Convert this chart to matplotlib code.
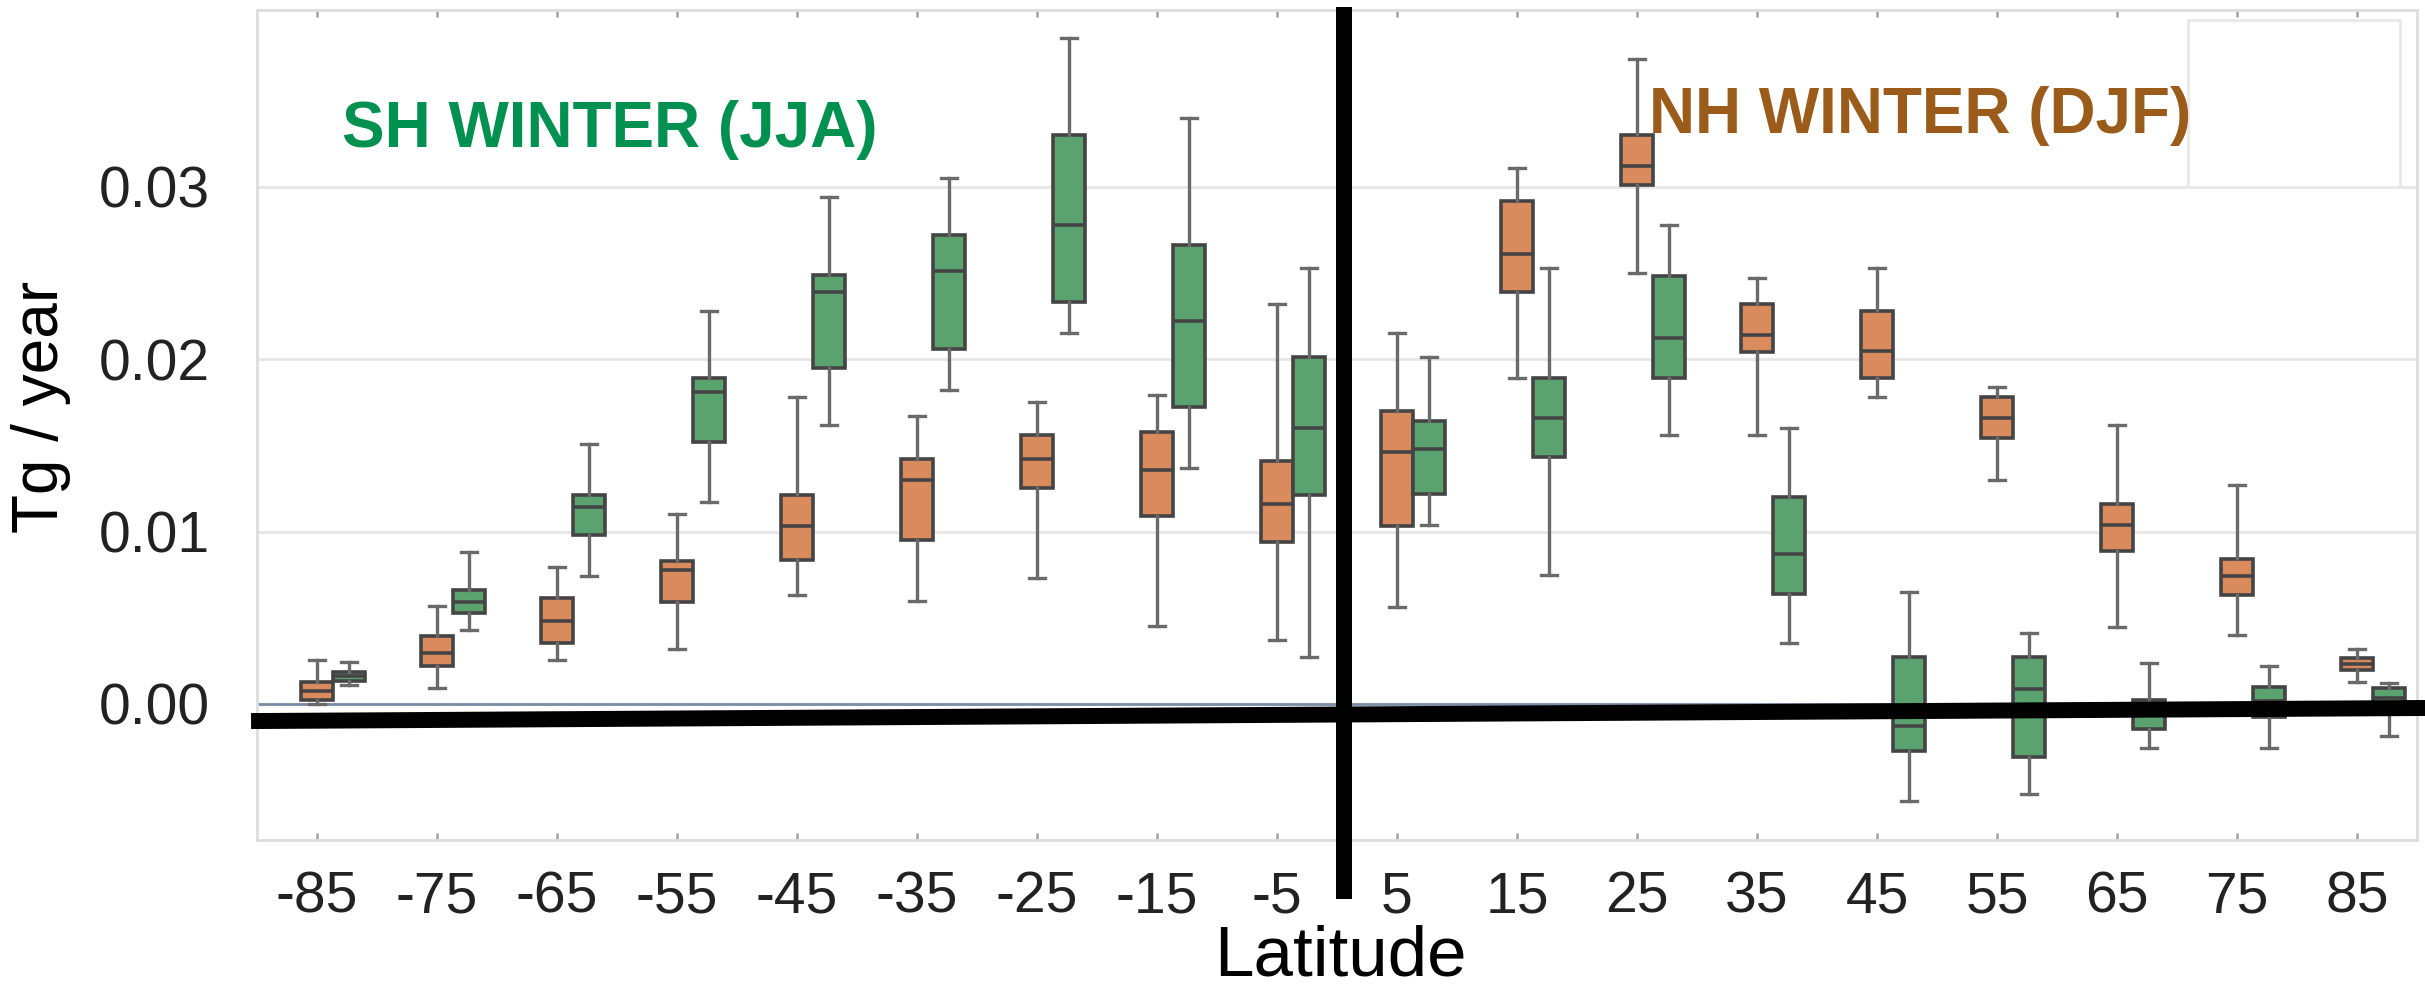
import numpy as np
import matplotlib
matplotlib.use('Agg')
import matplotlib.pyplot as plt
from matplotlib.patches import Rectangle

plt.rcParams['font.family'] = ['Liberation Sans', 'DejaVu Sans']

# latitude bins
lats = [-85, -75, -65, -55, -45, -35, -25, -15, -5, 5, 15, 25, 35, 45, 55, 65, 75, 85]

# DJF (orange) box stats, x 1e-3 Tg/year
djf_lo = [0.0, 0.92, 2.56, 3.19, 6.3, 5.97, 7.3, 4.5, 3.7, 5.6, 18.9, 25.0, 15.6, 17.8, 13.0, 4.47, 4.0, 1.28]
djf_q1 = [0.26, 2.2, 3.55, 5.93, 8.35, 9.5, 12.5, 10.9, 9.4, 10.3, 23.9, 30.1, 20.4, 18.9, 15.4, 8.9, 6.3, 2.0]
djf_med = [0.73, 2.93, 4.84, 7.77, 10.3, 13.0, 14.2, 13.6, 11.6, 14.6, 26.1, 31.2, 21.4, 20.5, 16.6, 10.4, 7.4, 2.3]
djf_q3 = [1.28, 3.92, 6.15, 8.3, 12.1, 14.2, 15.6, 15.75, 14.1, 17.0, 29.2, 33.0, 23.2, 22.8, 17.8, 11.6, 8.4, 2.64]
djf_hi = [2.56, 5.68, 7.95, 11.0, 17.8, 16.7, 17.5, 17.9, 23.2, 21.5, 31.1, 37.4, 24.7, 25.3, 18.4, 16.2, 12.7, 3.2]

# JJA (green) box stats, x 1e-3 Tg/year
jja_lo = [1.1, 4.32, 7.4, 11.7, 16.2, 18.2, 21.5, 13.7, 2.75, 10.4, 7.5, 15.6, 3.55, -5.6, -5.2, -2.56, -2.56, -1.83]
jja_q1 = [1.36, 5.3, 9.78, 15.2, 19.5, 20.6, 23.3, 17.2, 12.1, 12.2, 14.3, 18.9, 6.4, -2.75, -3.1, -1.47, -0.73, -0.55]
jja_med = [1.6, 5.93, 11.4, 18.1, 23.9, 25.1, 27.8, 22.2, 16.0, 14.8, 16.6, 21.2, 8.7, -1.25, 0.85, -0.5, 0.2, 0.37]
jja_q3 = [1.83, 6.6, 12.1, 18.9, 24.9, 27.2, 33.0, 26.6, 20.1, 16.4, 18.9, 24.8, 12.0, 2.75, 2.75, 0.26, 1.0, 0.9]
jja_hi = [2.45, 8.79, 15.1, 22.8, 29.4, 30.5, 38.6, 34.0, 25.3, 20.1, 25.3, 27.8, 16.0, 6.5, 4.1, 2.4, 2.2, 1.2]

orange = '#DA8B5E'
green = '#5BA36E'


def make_stats(lo, q1, med, q3, hi):
    stats = []
    for a, b, c, d, e in zip(lo, q1, med, q3, hi):
        stats.append({'whislo': a / 1000, 'q1': b / 1000, 'med': c / 1000,
                      'q3': d / 1000, 'whishi': e / 1000, 'fliers': []})
    return stats


fig = plt.figure(figsize=(24.25, 9.92), dpi=100)
ax = fig.add_axes([0.106, 0.1532, 0.8907, 0.8372])

x = np.arange(len(lats))
box_w = 0.26
edge = '#444444'
whisk = '#6a6a6a'

for stats, off, col in [(make_stats(djf_lo, djf_q1, djf_med, djf_q3, djf_hi), 0.0, orange),
                        (make_stats(jja_lo, jja_q1, jja_med, jja_q3, jja_hi), 0.267, green)]:
    ax.bxp(stats, positions=x + off, widths=box_w, capwidths=box_w * 0.5,
           patch_artist=True, showfliers=False, manage_ticks=False,
           boxprops=dict(facecolor=col, edgecolor=edge, linewidth=2.6),
           medianprops=dict(color=edge, linewidth=2.6),
           whiskerprops=dict(color=whisk, linewidth=2.4),
           capprops=dict(color=whisk, linewidth=2.4), zorder=3)

ax.set_xlim(-0.5, len(lats) - 0.5)
ax.set_ylim(-0.00789, 0.04028)
ax.set_yticks([0.0, 0.01, 0.02, 0.03])
ax.set_yticklabels(['0.00', '0.01', '0.02', '0.03'])
ax.set_xticks(x)
ax.set_xticklabels([str(v) for v in lats])
ax.yaxis.grid(True, color='#e6e6e6', linewidth=2, zorder=0)
ax.set_axisbelow(True)
for s in ax.spines.values():
    s.set_color('#dddddd')
    s.set_linewidth(2)
ax.tick_params(axis='y', length=0, pad=34, labelsize=41, labelcolor='#222222')
ax.tick_params(axis='x', direction='in', length=5, width=2, color='#aaaaaa',
               top=True, pad=22, labelsize=41, labelcolor='#222222')

# zero line and the heavy black cross
ax.axhline(0, color='#7d8ca6', linewidth=2, zorder=2)
ax.plot([-0.55, 17.6], [-0.00099, -0.00023], color='black', linewidth=11.5,
        solid_capstyle='butt', clip_on=False, zorder=5)
ax.plot([8.56, 8.56], [0.0404, -0.01131], color='black', linewidth=11.5,
        solid_capstyle='butt', clip_on=False, zorder=5)

# covered legend box
ax.add_patch(Rectangle((15.59, 0.0300), 1.77, 0.0097, facecolor='white',
                       edgecolor='#e8e8e8', linewidth=2, zorder=4))

ax.text(0.21, 0.0323, 'SH WINTER (JJA)', color='#009150', fontsize=46,
        fontweight='bold', va='baseline', ha='left', zorder=6)
ax.text(11.1, 0.0331, 'NH WINTER (DJF)', color='#9A5B1B', fontsize=46,
        fontweight='bold', va='baseline', ha='left', zorder=6)

ax.set_ylabel('Tg / year', fontsize=46, color='black')
ax.yaxis.set_label_coords(-0.0861, 0.521)
fig.text(1340 / 2425, 16 / 992, 'Latitude', fontsize=51, color='black',
         ha='center', va='baseline')

fig.savefig('out.png', dpi=100)
